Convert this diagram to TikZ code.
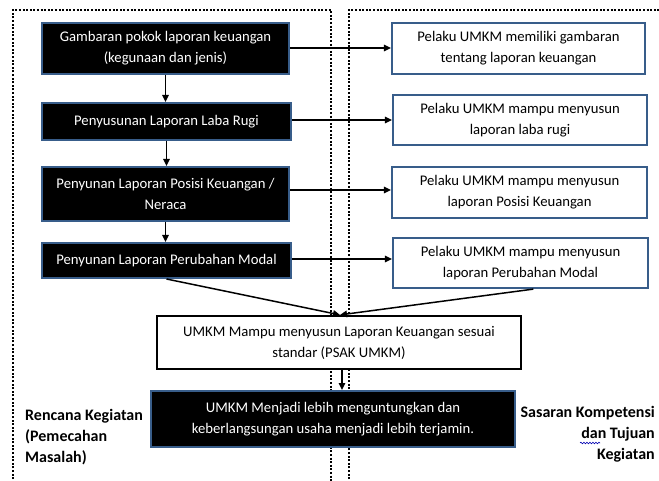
\documentclass[tikz,border=0pt]{standalone}
\usepackage{fontspec}
\setmainfont{Carlito}
\usetikzlibrary{arrows.meta,decorations.pathmorphing,calc}
\definecolor{edgeblue}{RGB}{56,93,138}
\begin{document}
\begin{tikzpicture}[x=1pt,y=-1pt,
  txt/.style={font=\fontsize{14.7}{21}\selectfont, align=center, inner sep=0pt},
  darkbox/.style={txt, draw=edgeblue, line width=2pt, fill=black, text=white},
  goalbox/.style={txt, draw=edgeblue, line width=2.2pt, fill=white, text=black},
  mainbox/.style={txt, draw=black, line width=2.2pt, fill=white, text=black},
  dotline/.style={line width=2.8pt, dash pattern=on 2pt off 1.6pt},
  arr/.style={line width=1.5pt, -{Triangle[length=7pt,width=6.5pt]}},
  sidelabel/.style={font=\fontsize{16}{21}\selectfont\bfseries, inner sep=0pt}
]
\useasboundingbox (0,0) rectangle (659,481);
\fill[white] (0,0) rectangle (659,481);

% dotted frames
\draw[dotline] (13,490) -- (13,10) -- (331,10) -- (331,490);
\draw[dotline] (349,490) -- (349,10) -- (670,10);

% left column
\node[darkbox, minimum width=247pt, minimum height=51pt] (b1) at (165.5,48.5) {Gambaran pokok laporan keuangan\\(kegunaan dan jenis)};
\node[darkbox, minimum width=249pt, minimum height=37pt] (b2) at (166.5,121.5) {Penyusunan Laporan Laba Rugi};
\node[darkbox, minimum width=247pt, minimum height=54pt] (b3) at (165.5,194) {Penyunan Laporan Posisi Keuangan /\\Neraca};
\node[darkbox, minimum width=249pt, minimum height=35pt] (b4) at (166.5,260.5) {Penyunan Laporan Perubahan Modal};

% right column
\node[goalbox, minimum width=253pt, minimum height=51pt] (r1) at (518.5,48.5) {Pelaku UMKM memiliki gambaran\\tentang laporan keuangan};
\node[goalbox, minimum width=254pt, minimum height=50pt] (r2) at (520,120) {Pelaku UMKM mampu menyusun\\laporan laba rugi};
\node[goalbox, minimum width=255pt, minimum height=51pt] (r3) at (519.5,192.5) {Pelaku UMKM mampu menyusun\\laporan Posisi Keuangan};
\node[goalbox, minimum width=255pt, minimum height=50pt] (r4) at (520.5,263) {Pelaku UMKM mampu menyusun\\laporan Perubahan Modal};

% centre
\node[mainbox, minimum width=364pt, minimum height=53pt] (c) at (339,342.5) {UMKM Mampu menyusun Laporan Keuangan sesuai\\standar (PSAK UMKM)};
\node[darkbox, minimum width=364pt, minimum height=56pt] (d) at (333,419) {UMKM Menjadi lebih menguntungkan dan\\keberlangsungan usaha menjadi lebih terjamin.};

% vertical arrows
\draw[arr] (b1.south) -- (b1.south |- b2.north);
\draw[arr] (b2.south) -- (b2.south |- b3.north);
\draw[arr] (b3.south) -- (b3.south |- b4.north);

% horizontal arrows
\draw[arr] ($(b1.east)+(0,-0.5)$) -- ($(b1.east -| r1.west)+(0,-0.5)$);
\draw[arr] ($(b2.east)+(0,-1.5)$) -- ($(b2.east -| r2.west)+(0,-1.5)$);
\draw[arr] ($(b3.east)+(0,-4)$) -- ($(b3.east -| r3.west)+(0,-4)$);
\draw[arr] ($(b4.east)+(0,-1.5)$) -- ($(b4.east -| r4.west)+(0,-1.5)$);

% converging arrows
\coordinate (cin) at ($(c.north)+(1,0)$);
\coordinate (r4out) at ($(r4.south west)!0.55!(r4.south east)$);
\draw[arr] (b4.south) -- (cin);
\draw[arr] (r4out) -- (cin);
\draw[arr] ($(c.south)+(3,0)$) -- ($(c.south |- d.north)+(3,0)$);

% side labels
\node[sidelabel, anchor=north west, align=left] (lleft) at (25,409) {Rencana Kegiatan\\(Pemecahan\\Masalah)};
\node[sidelabel, anchor=north east, align=right] (lright) at (655,406) {Sasaran Kompetensi\\dan Tujuan\\Kegiatan};
\draw[blue!70!black, line width=0.6pt, decorate, decoration={snake, amplitude=0.8pt, segment length=3pt}] (580,443) -- (600,443);
\end{tikzpicture}
\end{document}
